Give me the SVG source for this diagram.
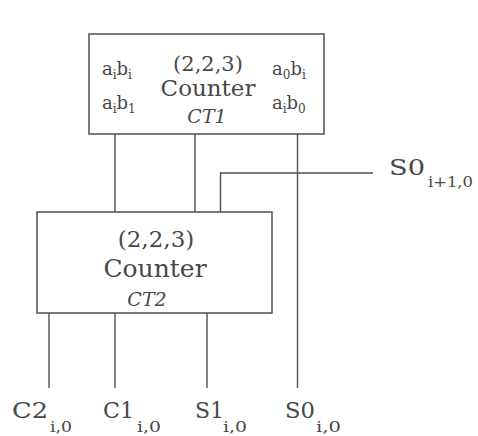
<svg xmlns="http://www.w3.org/2000/svg" width="478" height="436" viewBox="0 0 478 436">
<style>
.box{fill:none;stroke:#505050;stroke-width:1.5}
.wire{fill:none;stroke:#505050;stroke-width:1.4}
text{font-family:"DejaVu Serif","Liberation Serif",serif;fill:#484848}
.big{font-size:23px}
.ctr{font-size:24px}
.it{font-size:19px;font-style:italic}
.lab{font-size:22px}
.sub{font-size:15px}
.cl{font-size:18px}
.cs{font-size:12px}
.mid{text-anchor:middle}
</style>
<rect width="478" height="436" fill="#ffffff"/>
<g id="connectors">
<line class="wire" x1="115" y1="134" x2="115" y2="212"/>
<line class="wire" x1="195" y1="134" x2="195" y2="212"/>
<line class="wire" x1="297.5" y1="134" x2="297.5" y2="388"/>
<polyline class="wire" points="220.5,212 220.5,173 373,173"/>
<line class="wire" x1="49" y1="313" x2="49" y2="388"/>
<line class="wire" x1="115" y1="313" x2="115" y2="388"/>
<line class="wire" x1="207" y1="313" x2="207" y2="388"/>
</g>
<g id="CT1">
<rect class="box" x="89" y="34" width="235" height="100"/>
<text class="mid" x="208" y="71" style="font-size:21px">(2,2,3)</text>
<text class="mid" x="208" y="96" style="font-size:23px">Counter</text>
<text class="it mid" x="207" y="123">CT1</text>
<text class="cl" x="102" y="75">a<tspan class="cs" dy="4">i</tspan><tspan dy="-4">b</tspan><tspan class="cs" dy="4">i</tspan></text>
<text class="cl" x="102" y="109">a<tspan class="cs" dy="4">i</tspan><tspan dy="-4">b</tspan><tspan class="cs" dy="4">1</tspan></text>
<text class="cl" x="272" y="75">a<tspan class="cs" dy="4">0</tspan><tspan dy="-4">b</tspan><tspan class="cs" dy="4">i</tspan></text>
<text class="cl" x="272" y="109">a<tspan class="cs" dy="4">i</tspan><tspan dy="-4">b</tspan><tspan class="cs" dy="4">0</tspan></text>
</g>
<g id="CT2">
<rect class="box" x="37" y="212" width="235" height="101"/>
<text class="big mid" x="156" y="247">(2,2,3)</text>
<text class="ctr mid" x="155" y="277" style="font-size:25px">Counter</text>
<text class="it mid" x="147" y="306">CT2</text>
</g>
<g id="SO_in">
<text class="lab" x="389" y="175" textLength="36" lengthAdjust="spacingAndGlyphs">S0</text>
<text class="sub" x="428" y="187" textLength="45" lengthAdjust="spacingAndGlyphs">i+1,0</text>
</g>
<g id="C2_out">
<text class="lab" x="12" y="418" textLength="36" lengthAdjust="spacingAndGlyphs">C2</text>
<text class="sub" x="50" y="432" textLength="22" lengthAdjust="spacingAndGlyphs">i,0</text>
</g>
<g id="C1_out">
<text class="lab" x="103" y="418" textLength="31" lengthAdjust="spacingAndGlyphs">C1</text>
<text class="sub" x="137" y="432" textLength="24" lengthAdjust="spacingAndGlyphs">i,0</text>
</g>
<g id="S1_out">
<text class="lab" x="195" y="418">S1</text>
<text class="sub" x="223" y="432" textLength="24" lengthAdjust="spacingAndGlyphs">i,0</text>
</g>
<g id="S0_out">
<text class="lab" x="285" y="418" textLength="30" lengthAdjust="spacingAndGlyphs">S0</text>
<text class="sub" x="316" y="432" textLength="25" lengthAdjust="spacingAndGlyphs">i,0</text>
</g>
</svg>
